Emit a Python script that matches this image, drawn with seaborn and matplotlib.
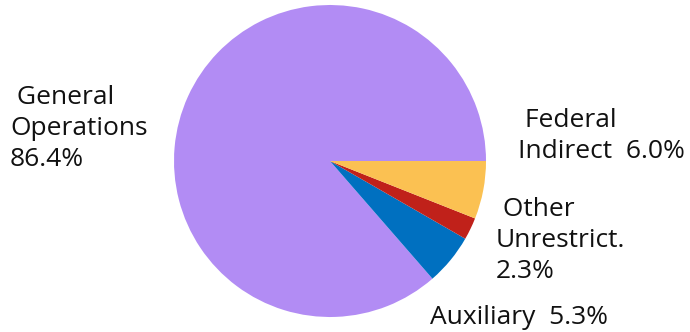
import matplotlib
matplotlib.use("Agg")
import matplotlib.pyplot as plt
import seaborn as sns

# Budget shares by fund (percent)
categories = ["General Operations", "Auxiliary", "Other Unrestrict.", "Federal Indirect"]
shares = [86.4, 5.3, 2.3, 6.0]
slice_colors = ["#B28CF4", "#0070C0", "#C0211A", "#FBC152"]

sns.set_theme(style="white")
plt.rcParams["font.family"] = ["Open Sans", "DejaVu Sans"]

W, H, DPI = 690, 332, 100
fig = plt.figure(figsize=(W / DPI, H / DPI), dpi=DPI)
ax = fig.add_axes([0, 0, 1, 1])

ax.pie(shares, colors=sns.color_palette(slice_colors), startangle=0,
       counterclock=True, radius=1.0,
       wedgeprops=dict(linewidth=0, antialiased=True))

# map pixel geometry: centre at (330, 161), radius 156 px
cx, cy, r = 330.0, 161.0, 156.0
ax.set_xlim(-cx / r, (W - cx) / r)
ax.set_ylim(-(H - cy) / r, cy / r)
ax.set_aspect("equal", adjustable="box")
ax.axis("off")


def px(x, y):
    return (x - cx) / r, (cy - y) / r


label_texts = [
    " General\nOperations\n{:.1f}%".format(shares[0]),
    "Auxiliary  {:.1f}%".format(shares[1]),
    " Other\nUnrestrict.\n{:.1f}%".format(shares[2]),
    " Federal\nIndirect  {:.1f}%".format(shares[3]),
]
label_pos = [(10, 85), (430, 305), (496, 197), (518, 108)]

for text, (x, y) in zip(label_texts, label_pos):
    ax.text(*px(x, y), text, ha="left", va="top", fontsize=19,
            color="#111111", linespacing=1.32)

fig.savefig("out.png", dpi=DPI)
